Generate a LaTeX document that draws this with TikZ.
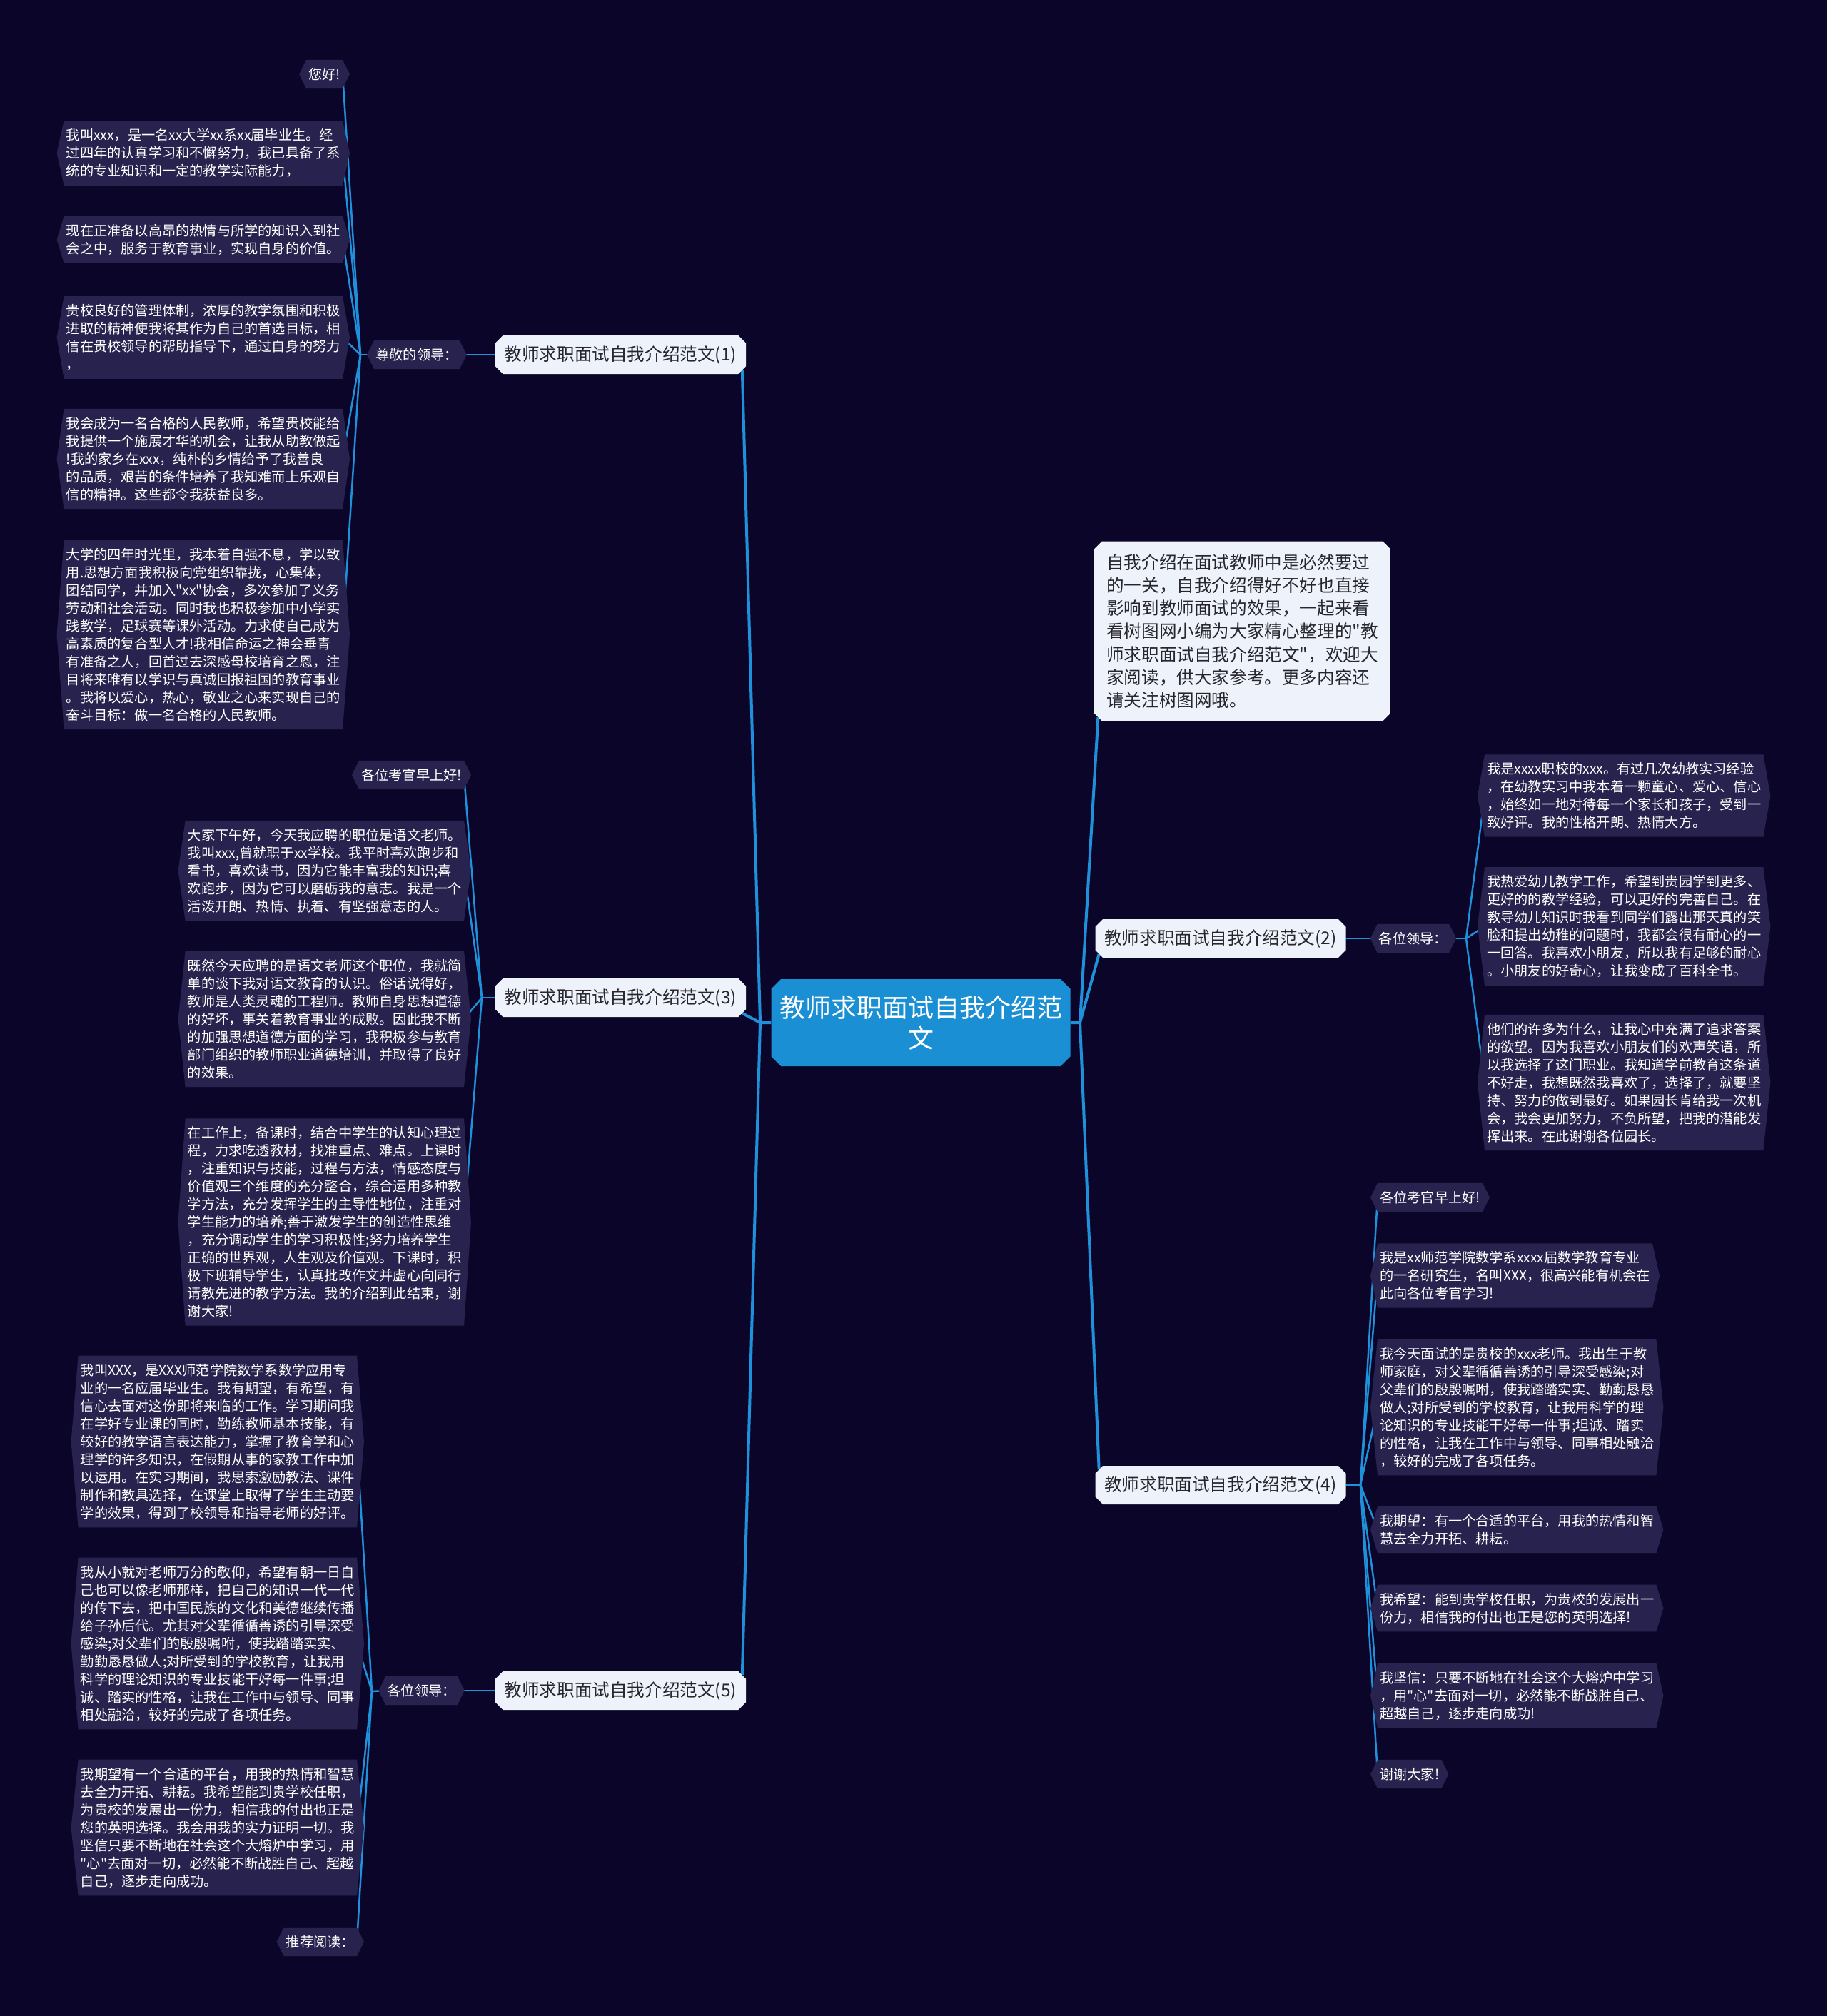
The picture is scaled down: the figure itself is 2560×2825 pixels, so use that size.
\documentclass[tikz,border=0pt]{standalone}
\usepackage{fontspec}
\setmainfont{Noto Sans CJK SC}[Ligatures=TeXOff]
\usepackage{xcolor}
\usepackage{tikz}
\usetikzlibrary{positioning, shapes.misc, backgrounds}

\definecolor{bgnavy}{RGB}{11,6,41}
\definecolor{leaffill}{RGB}{39,35,78}
\definecolor{linkblue}{RGB}{31,144,218}
\definecolor{rootblue}{RGB}{27,143,212}
\definecolor{branchfill}{RGB}{238,243,251}
\definecolor{darktext}{RGB}{38,38,44}

\begin{document}
\begin{tikzpicture}[
x=1pt, y=-1pt,
leaf/.style={align=left, text=white, inner xsep=3pt, inner ysep=11pt, font=\fontsize{19.2pt}{25pt}\selectfont},
tag/.style={leaf, inner xsep=2pt},
branch/.style={chamfered rectangle, chamfered rectangle xsep=7pt, fill=branchfill, text=darktext, minimum width=351pt, minimum height=54pt, inner sep=0pt, font=\fontsize{24.6pt}{30pt}\selectfont},
intro/.style={branch, align=left, minimum width=396pt, inner xsep=10pt, inner ysep=14pt, font=\fontsize{24.6pt}{32.3pt}\selectfont},
root/.style={chamfered rectangle, chamfered rectangle xsep=10pt, fill=rootblue, text=white, align=center, minimum width=419pt, minimum height=122pt, inner sep=0pt, font=\fontsize{36pt}{43pt}\selectfont},
trunk/.style={draw=linkblue, line width=4pt},
link/.style={draw=linkblue, line width=2.5pt},
hexfill/.style={fill=leaffill}
]

\begin{scope}[on background layer]
\fill[bgnavy] (0,0) rectangle (2560,2825);
\end{scope}
\useasboundingbox (0,0) rectangle (2560,2825);

\node[root] (root) at (1290,1433) {教师求职面试自我介绍范\\文};

\node[branch] (b1) at (869.5,497) {教师求职面试自我介绍范文(1)};
\node[branch] (b3) at (869.5,1398) {教师求职面试自我介绍范文(3)};
\node[branch] (b5) at (869.5,2369) {教师求职面试自我介绍范文(5)};
\node[branch] (b2) at (1710,1315) {教师求职面试自我介绍范文(2)};
\node[branch] (b4) at (1710,2081) {教师求职面试自我介绍范文(4)};

\node[intro, anchor=west] (intro) at (1533,884.5)
{自我介绍在面试教师中是必然要过\\的一关，自我介绍得好不好也直接\\影响到教师面试的效果，一起来看\\看树图网小编为大家精心整理的"教\\师求职面试自我介绍范文"，欢迎大\\家阅读，供大家参考。更多内容还\\请关注树图网哦。};

\node[tag, left=50pt of b1] (t1) {尊敬的领导：};
\node[tag, left=53pt of b5] (t5) {各位领导：};
\node[tag, right=44pt of b2] (t2) {各位领导：};

\node[leaf, anchor=east] (s1a) at (480,104) {您好!};
\node[leaf, anchor=east] (s1b) at (480,214.5)
{我叫xxx，是一名xx大学xx系xx届毕业生。经\\过四年的认真学习和不懈努力，我已具备了系\\统的专业知识和一定的教学实际能力，};
\node[leaf, anchor=east] (s1c) at (480,336)
{现在正准备以高昂的热情与所学的知识入到社\\会之中，服务于教育事业，实现自身的价值。};
\node[leaf, anchor=east] (s1d) at (480,473)
{贵校良好的管理体制，浓厚的教学氛围和积极\\进取的精神使我将其作为自己的首选目标，相\\信在贵校领导的帮助指导下，通过自身的努力\\，};
\node[leaf, anchor=east] (s1e) at (480,643)
{我会成为一名合格的人民教师，希望贵校能给\\我提供一个施展才华的机会，让我从助教做起\\!我的家乡在xxx，纯朴的乡情给予了我善良\\的品质，艰苦的条件培养了我知难而上乐观自\\信的精神。这些都令我获益良多。};
\node[leaf, anchor=east] (s1f) at (480,889.5)
{大学的四年时光里，我本着自强不息，学以致\\用.思想方面我积极向党组织靠拢，心集体，\\团结同学，并加入"xx"协会，多次参加了义务\\劳动和社会活动。同时我也积极参加中小学实\\践教学，足球赛等课外活动。力求使自己成为\\高素质的复合型人才!我相信命运之神会垂青\\有准备之人，回首过去深感母校培育之恩，注\\目将来唯有以学识与真诚回报祖国的教育事业\\。我将以爱心，热心，敬业之心来实现自己的\\奋斗目标：做一名合格的人民教师。};

\node[leaf, anchor=east] (s3a) at (650,1086) {各位考官早上好!};
\node[leaf, anchor=east] (s3b) at (650,1220)
{大家下午好，今天我应聘的职位是语文老师。\\我叫xxx,曾就职于xx学校。我平时喜欢跑步和\\看书，喜欢读书，因为它能丰富我的知识;喜\\欢跑步，因为它可以磨砺我的意志。我是一个\\活泼开朗、热情、执着、有坚强意志的人。};
\node[leaf, anchor=east] (s3c) at (650,1428)
{既然今天应聘的是语文老师这个职位，我就简\\单的谈下我对语文教育的认识。俗话说得好，\\教师是人类灵魂的工程师。教师自身思想道德\\的好坏，事关着教育事业的成败。因此我不断\\的加强思想道德方面的学习，我积极参与教育\\部门组织的教师职业道德培训，并取得了良好\\的效果。};
\node[leaf, anchor=east] (s3d) at (650,1712.5)
{在工作上，备课时，结合中学生的认知心理过\\程，力求吃透教材，找准重点、难点。上课时\\，注重知识与技能，过程与方法，情感态度与\\价值观三个维度的充分整合，综合运用多种教\\学方法，充分发挥学生的主导性地位，注重对\\学生能力的培养;善于激发学生的创造性思维\\，充分调动学生的学习积极性;努力培养学生\\正确的世界观，人生观及价值观。下课时，积\\极下班辅导学生，认真批改作文并虚心向同行\\请教先进的教学方法。我的介绍到此结束，谢\\谢大家!};

\node[leaf, anchor=east] (s5a) at (500,2020)
{我叫XXX，是XXX师范学院数学系数学应用专\\业的一名应届毕业生。我有期望，有希望，有\\信心去面对这份即将来临的工作。学习期间我\\在学好专业课的同时，勤练教师基本技能，有\\较好的教学语言表达能力，掌握了教育学和心\\理学的许多知识，在假期从事的家教工作中加\\以运用。在实习期间，我思索激励教法、课件\\制作和教具选择，在课堂上取得了学生主动要\\学的效果，得到了校领导和指导老师的好评。};
\node[leaf, anchor=east] (s5b) at (500,2303)
{我从小就对老师万分的敬仰，希望有朝一日自\\己也可以像老师那样，把自己的知识一代一代\\的传下去，把中国民族的文化和美德继续传播\\给子孙后代。尤其对父辈循循善诱的引导深受\\感染;对父辈们的殷殷嘱咐，使我踏踏实实、\\勤勤恳恳做人;对所受到的学校教育，让我用\\科学的理论知识的专业技能干好每一件事;坦\\诚、踏实的性格，让我在工作中与领导、同事\\相处融洽，较好的完成了各项任务。};
\node[leaf, anchor=east] (s5c) at (500,2561)
{我期望有一个合适的平台，用我的热情和智慧\\去全力开拓、耕耘。我希望能到贵学校任职，\\为贵校的发展出一份力，相信我的付出也正是\\您的英明选择。我会用我的实力证明一切。我\\坚信只要不断地在社会这个大熔炉中学习，用\\"心"去面对一切，必然能不断战胜自己、超越\\自己，逐步走向成功。};
\node[leaf, anchor=east] (s5d) at (500,2721) {推荐阅读：};

\node[leaf, anchor=west] (s2a) at (2080,1115)
{我是xxxx职校的xxx。有过几次幼教实习经验\\，在幼教实习中我本着一颗童心、爱心、信心\\，始终如一地对待每一个家长和孩子，受到一\\致好评。我的性格开朗、热情大方。};
\node[leaf, anchor=west] (s2b) at (2080,1298)
{我热爱幼儿教学工作，希望到贵园学到更多、\\更好的的教学经验，可以更好的完善自己。在\\教导幼儿知识时我看到同学们露出那天真的笑\\脸和提出幼稚的问题时，我都会很有耐心的一\\一回答。我喜欢小朋友，所以我有足够的耐心\\。小朋友的好奇心，让我变成了百科全书。};
\node[leaf, anchor=west] (s2c) at (2080,1517)
{他们的许多为什么，让我心中充满了追求答案\\的欲望。因为我喜欢小朋友们的欢声笑语，所\\以我选择了这门职业。我知道学前教育这条道\\不好走，我想既然我喜欢了，选择了，就要坚\\持、努力的做到最好。如果园长肯给我一次机\\会，我会更加努力，不负所望，把我的潜能发\\挥出来。在此谢谢各位园长。};

\node[leaf, anchor=west] (s4a) at (1930,1678) {各位考官早上好!};
\node[leaf, anchor=west] (s4b) at (1930,1787.5)
{我是xx师范学院数学系xxxx届数学教育专业\\的一名研究生，名叫XXX，很高兴能有机会在\\此向各位考官学习!};
\node[leaf, anchor=west] (s4c) at (1930,1972)
{我今天面试的是贵校的xxx老师。我出生于教\\师家庭，对父辈循循善诱的引导深受感染;对\\父辈们的殷殷嘱咐，使我踏踏实实、勤勤恳恳\\做人;对所受到的学校教育，让我用科学的理\\论知识的专业技能干好每一件事;坦诚、踏实\\的性格，让我在工作中与领导、同事相处融洽\\，较好的完成了各项任务。};
\node[leaf, anchor=west] (s4d) at (1930,2143.5)
{我期望：有一个合适的平台，用我的热情和智\\慧去全力开拓、耕耘。};
\node[leaf, anchor=west] (s4e) at (1930,2253.5)
{我希望：能到贵学校任职，为贵校的发展出一\\份力，相信我的付出也正是您的英明选择!};
\node[leaf, anchor=west] (s4f) at (1930,2376)
{我坚信：只要不断地在社会这个大熔炉中学习\\，用"心"去面对一切，必然能不断战胜自己、\\超越自己，逐步走向成功!};
\node[leaf, anchor=west] (s4g) at (1930,2486) {谢谢大家!};

\coordinate (jl) at (1065,1433);
\coordinate (jr) at (1513,1433);
\coordinate (j1) at (505,497);
\coordinate (j3) at (675,1398);
\coordinate (j5) at (521,2370);
\coordinate (j2) at (2054,1315);
\coordinate (j4) at (1906,2081);

\begin{scope}[on background layer]
\draw[trunk] (root.west) -- (jl) -- (b1.south east);
\draw[trunk] (jl) -- (b3.south east);
\draw[trunk] (jl) -- (b5.north east);
\draw[trunk] (root.east) -- (jr) -- (intro.south west);
\draw[trunk] (jr) -- (b2.south west);
\draw[trunk] (jr) -- (b4.north west);

\foreach \n in {s1a,s1b,s1c,s1d,s1e,s1f} \draw[link] (\n.east) -- (j1);
\draw[link] (j1) -- (t1.west);
\draw[link] (t1.east) -- (b1.west);

\foreach \n in {s3a,s3b,s3c,s3d} \draw[link] (\n.east) -- (j3);
\draw[link] (j3) -- (b3.west);

\foreach \n in {s5a,s5b,s5c,s5d} \draw[link] (\n.east) -- (j5);
\draw[link] (j5) -- (t5.west);
\draw[link] (t5.east) -- (b5.west);

\foreach \n in {s2a,s2b,s2c} \draw[link] (\n.west) -- (j2);
\draw[link] (j2) -- (t2.east);
\draw[link] (t2.west) -- (b2.east);

\foreach \n in {s4a,s4b,s4c,s4d,s4e,s4f,s4g} \draw[link] (\n.west) -- (j4);
\draw[link] (j4) -- (b4.east);

\foreach \n in {s1a,s1b,s1c,s1d,s1e,s1f,s3a,s3b,s3c,s3d,s5a,s5b,s5c,s5d,s2a,s2b,s2c,s4a,s4b,s4c,s4d,s4e,s4f,s4g,t1,t2,t5}
  \fill[hexfill] ([xshift=-10pt]\n.west) -- (\n.north west) -- (\n.north east) -- ([xshift=10pt]\n.east) -- (\n.south east) -- (\n.south west) -- cycle;
\end{scope}

\end{tikzpicture}
\end{document}
